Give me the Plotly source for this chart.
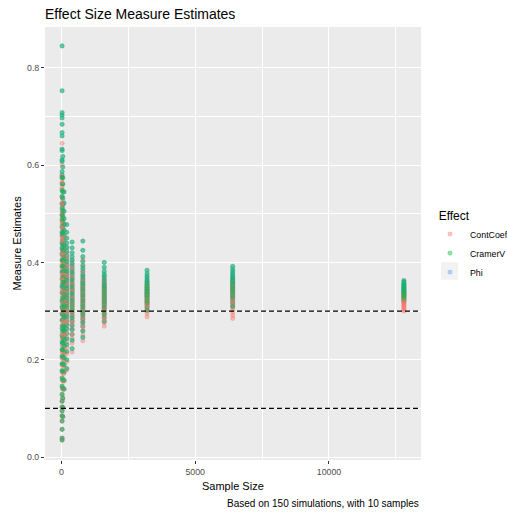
import plotly.graph_objects as go

# Sample sizes used in the simulation
sample_sizes = [25, 50, 100, 200, 400, 800, 1600, 3200, 6400, 12800]

# Cramér's V estimates per sample size
cramer_v_n25 = [0.845, 0.753, 0.708, 0.703, 0.697, 0.684, 0.667, 0.660, 0.633, 0.630, 0.611, 0.608,
                0.587, 0.580, 0.575, 0.562, 0.548, 0.536, 0.521, 0.512, 0.498, 0.487, 0.474, 0.462,
                0.455, 0.441, 0.430, 0.418, 0.405, 0.392, 0.380, 0.366, 0.351, 0.338, 0.322, 0.309,
                0.294, 0.281, 0.265, 0.250, 0.236, 0.221, 0.207, 0.192, 0.178, 0.163, 0.146, 0.129,
                0.115, 0.103, 0.095, 0.085, 0.074, 0.057, 0.039, 0.035]
cramer_v_n50 = [0.618, 0.596, 0.574, 0.561, 0.545, 0.532, 0.518, 0.507, 0.494, 0.483, 0.470, 0.459,
                0.447, 0.437, 0.425, 0.415, 0.403, 0.393, 0.381, 0.371, 0.359, 0.349, 0.337, 0.327,
                0.315, 0.305, 0.293, 0.283, 0.270, 0.259, 0.246, 0.234, 0.220, 0.207, 0.191, 0.176,
                0.158, 0.141, 0.121, 0.102, 0.083]
cramer_v_n100 = [0.545, 0.522, 0.505, 0.490, 0.478, 0.466, 0.455, 0.445, 0.435, 0.426, 0.417, 0.408,
                 0.399, 0.391, 0.383, 0.375, 0.367, 0.359, 0.351, 0.343, 0.335, 0.327, 0.319, 0.311,
                 0.303, 0.295, 0.287, 0.278, 0.269, 0.260, 0.250, 0.240, 0.229, 0.217, 0.204, 0.190,
                 0.175, 0.158, 0.140]
cramer_v_n200 = [0.478, 0.462, 0.450, 0.440, 0.431, 0.423, 0.415, 0.408, 0.401, 0.394, 0.388, 0.382,
                 0.376, 0.370, 0.364, 0.358, 0.352, 0.346, 0.340, 0.334, 0.328, 0.322, 0.316, 0.310,
                 0.303, 0.296, 0.289, 0.281, 0.273, 0.264, 0.254, 0.243, 0.231, 0.217, 0.200, 0.182]
cramer_v_n400 = [0.442, 0.430, 0.420, 0.412, 0.405, 0.398, 0.392, 0.386, 0.380, 0.375, 0.370, 0.365,
                 0.360, 0.355, 0.350, 0.345, 0.340, 0.335, 0.330, 0.325, 0.320, 0.315, 0.310, 0.304,
                 0.298, 0.292, 0.286, 0.279, 0.271, 0.262, 0.252, 0.240, 0.223]
cramer_v_n800 = [0.444, 0.425, 0.412, 0.402, 0.394, 0.387, 0.381, 0.375, 0.370, 0.365, 0.361, 0.357,
                 0.353, 0.349, 0.345, 0.341, 0.337, 0.333, 0.329, 0.325, 0.321, 0.317, 0.313, 0.309,
                 0.305, 0.300, 0.295, 0.290, 0.284, 0.277, 0.269, 0.259, 0.246]
cramer_v_n1600 = [0.400, 0.390, 0.382, 0.376, 0.371, 0.366, 0.362, 0.358, 0.355, 0.352, 0.349, 0.346,
                  0.343, 0.340, 0.337, 0.334, 0.331, 0.328, 0.325, 0.322, 0.319, 0.316, 0.313, 0.309,
                  0.305, 0.300, 0.294, 0.287, 0.279]
cramer_v_n3200 = [0.384, 0.377, 0.372, 0.368, 0.364, 0.361, 0.358, 0.355, 0.352, 0.350, 0.348, 0.346,
                  0.344, 0.342, 0.340, 0.338, 0.336, 0.334, 0.332, 0.330, 0.327, 0.324, 0.321, 0.318,
                  0.314, 0.309, 0.302]
cramer_v_n6400 = [0.392, 0.386, 0.381, 0.377, 0.373, 0.370, 0.367, 0.364, 0.361, 0.359, 0.356, 0.354,
                  0.351, 0.349, 0.346, 0.344, 0.341, 0.338, 0.335, 0.332, 0.328, 0.323, 0.317, 0.310]
cramer_v_n12800 = [0.363, 0.360, 0.357, 0.355, 0.353, 0.351, 0.349, 0.347, 0.346, 0.344, 0.343, 0.341,
                   0.340, 0.338, 0.337, 0.335, 0.334, 0.332, 0.331, 0.329, 0.327, 0.324, 0.321]

# Contingency coefficient estimates per sample size
cont_coef_n25 = [0.645, 0.601, 0.578, 0.575, 0.572, 0.565, 0.555, 0.551, 0.535, 0.533, 0.521, 0.520,
                 0.506, 0.502, 0.498, 0.490, 0.481, 0.472, 0.462, 0.456, 0.446, 0.438, 0.428, 0.420,
                 0.414, 0.404, 0.395, 0.386, 0.375, 0.365, 0.355, 0.344, 0.331, 0.320, 0.306, 0.295,
                 0.282, 0.271, 0.256, 0.243, 0.230, 0.216, 0.203, 0.189, 0.175, 0.161, 0.144, 0.128,
                 0.114, 0.102, 0.095, 0.085, 0.074, 0.057, 0.039, 0.035]
cont_coef_n50 = [0.526, 0.512, 0.498, 0.489, 0.479, 0.469, 0.460, 0.451, 0.443, 0.434, 0.426, 0.416,
                 0.408, 0.400, 0.391, 0.383, 0.374, 0.365, 0.356, 0.347, 0.338, 0.329, 0.319, 0.310,
                 0.300, 0.291, 0.281, 0.271, 0.261, 0.250, 0.239, 0.227, 0.215, 0.202, 0.188, 0.172,
                 0.156, 0.139, 0.120, 0.101, 0.083]
cont_coef_n100 = [0.479, 0.463, 0.451, 0.440, 0.431, 0.422, 0.414, 0.407, 0.399, 0.392, 0.385, 0.378,
                  0.371, 0.364, 0.358, 0.351, 0.345, 0.338, 0.331, 0.324, 0.318, 0.311, 0.304, 0.297,
                  0.290, 0.283, 0.276, 0.268, 0.260, 0.252, 0.243, 0.233, 0.223, 0.212, 0.200, 0.187,
                  0.172, 0.156, 0.139]
cont_coef_n200 = [0.431, 0.420, 0.410, 0.403, 0.396, 0.390, 0.383, 0.378, 0.372, 0.367, 0.362, 0.357,
                  0.352, 0.347, 0.342, 0.337, 0.332, 0.327, 0.322, 0.317, 0.312, 0.306, 0.301, 0.296,
                  0.290, 0.284, 0.278, 0.271, 0.263, 0.255, 0.246, 0.236, 0.225, 0.212, 0.196, 0.179]
cont_coef_n400 = [0.404, 0.395, 0.387, 0.381, 0.375, 0.370, 0.365, 0.360, 0.355, 0.351, 0.347, 0.343,
                  0.339, 0.335, 0.330, 0.326, 0.322, 0.318, 0.314, 0.309, 0.305, 0.300, 0.296, 0.291,
                  0.286, 0.280, 0.275, 0.268, 0.262, 0.253, 0.244, 0.234, 0.216]
cont_coef_n800 = [0.406, 0.391, 0.381, 0.373, 0.367, 0.361, 0.356, 0.351, 0.347, 0.343, 0.340, 0.336,
                  0.333, 0.330, 0.326, 0.323, 0.319, 0.316, 0.313, 0.309, 0.306, 0.302, 0.299, 0.295,
                  0.292, 0.287, 0.283, 0.279, 0.273, 0.267, 0.260, 0.251, 0.239]
cont_coef_n1600 = [0.371, 0.363, 0.357, 0.352, 0.348, 0.344, 0.340, 0.337, 0.335, 0.332, 0.330, 0.327,
                   0.324, 0.322, 0.319, 0.317, 0.314, 0.312, 0.309, 0.306, 0.304, 0.301, 0.299, 0.295,
                   0.292, 0.287, 0.282, 0.276, 0.269]
cont_coef_n3200 = [0.358, 0.353, 0.349, 0.345, 0.342, 0.340, 0.337, 0.335, 0.332, 0.330, 0.329, 0.327,
                   0.325, 0.324, 0.322, 0.320, 0.319, 0.317, 0.315, 0.314, 0.311, 0.308, 0.306, 0.303,
                   0.300, 0.295, 0.288]
cont_coef_n6400 = [0.365, 0.360, 0.356, 0.352, 0.349, 0.346, 0.343, 0.340, 0.337, 0.335, 0.332, 0.330,
                   0.327, 0.325, 0.322, 0.319, 0.316, 0.313, 0.310, 0.306, 0.302, 0.297, 0.291, 0.285]
cont_coef_n12800 = [0.341, 0.338, 0.336, 0.334, 0.332, 0.330, 0.328, 0.327, 0.325, 0.324, 0.322, 0.321,
                    0.319, 0.318, 0.316, 0.315, 0.313, 0.311, 0.309, 0.307, 0.305, 0.303, 0.300]

cramer_v = [cramer_v_n25, cramer_v_n50, cramer_v_n100, cramer_v_n200, cramer_v_n400,
            cramer_v_n800, cramer_v_n1600, cramer_v_n3200, cramer_v_n6400, cramer_v_n12800]
cont_coef = [cont_coef_n25, cont_coef_n50, cont_coef_n100, cont_coef_n200, cont_coef_n400,
             cont_coef_n800, cont_coef_n1600, cont_coef_n3200, cont_coef_n6400, cont_coef_n12800]
# In a 2x2 table Phi coincides with Cramér's V, so Phi reuses the same estimates
phi = cramer_v

reference_lines = [0.1, 0.3]

measures = ["ContCoef", "CramerV", "Phi"]
colors = {"ContCoef": (248, 118, 109), "CramerV": (0, 186, 56), "Phi": (97, 156, 255)}
values = {"ContCoef": cont_coef, "CramerV": cramer_v, "Phi": phi}

FONT = "Liberation Sans, Arial, sans-serif"
W, H = 507, 512
ML, MR, MT, MB = 45, 86, 27, 52
PW, PH = W - ML - MR, H - MT - MB


def px_x(px):
    return (px - ML) / PW


def px_y(py):
    return (H - MB - py) / PH


fig = go.Figure()

# Interleave drawing chunks so the three measures mix like row-ordered points
n_chunks = 3
draw_order = ["Phi", "ContCoef", "CramerV"]
shown = set()
for k in range(n_chunks):
    for m in draw_order:
        xs, ys = [], []
        for n, vals in zip(sample_sizes, values[m]):
            part = vals[k::n_chunks]
            xs += [n] * len(part)
            ys += part
        r, g, b = colors[m]
        fig.add_trace(go.Scatter(
            x=xs, y=ys, mode="markers", name=m, legendgroup=m,
            showlegend=m not in shown, legendrank=measures.index(m) + 1,
            marker=dict(size=4.2, color=f"rgba({r},{g},{b},0.42)",
                        line=dict(width=0.6, color=f"rgba({r},{g},{b},0.55)")),
            hoverinfo="skip",
        ))
        shown.add(m)

for yv in reference_lines:
    fig.add_hline(y=yv, line=dict(color="black", width=1.2, dash="5px,3px"), layer="above")

# Grey key backgrounds behind the legend symbols
key_centers = [234, 252.5, 271]
shapes = []
for c in key_centers:
    shapes.append(dict(type="rect", xref="paper", yref="paper",
                       x0=px_x(441), x1=px_x(458), y0=px_y(c + 8.7), y1=px_y(c - 8.7),
                       fillcolor="#F2F2F2", line=dict(width=0), layer="below"))

axis_common = dict(
    showline=False, zeroline=False, ticks="outside", ticklen=3, tickwidth=1,
    tickcolor="#333333", tickfont=dict(family=FONT, size=8.8, color="#4D4D4D"),
    gridcolor="white", gridwidth=1.1,
)

fig.update_layout(
    width=W, height=H,
    margin=dict(l=ML, r=MR, t=MT, b=MB, pad=0, autoexpand=False),
    paper_bgcolor="white", plot_bgcolor="#EBEBEB",
    font=dict(family=FONT, color="black"),
    title=dict(text="Effect Size Measure Estimates", xref="container", yref="container",
               x=45 / W, xanchor="left", y=1 - 14.5 / H, yanchor="middle",
               font=dict(family=FONT, size=14, color="black")),
    xaxis=dict(range=[-614, 13439], tickvals=[0, 5000, 10000], ticktext=["0", "5000", "10000"],
               minor=dict(tickvals=[2500, 7500, 12500], showgrid=True, gridcolor="white",
                          gridwidth=0.55, ticks=""),
               **axis_common),
    yaxis=dict(range=[-0.006, 0.884], tickvals=[0, 0.2, 0.4, 0.6, 0.8],
               ticktext=["0.0", "0.2", "0.4", "0.6", "0.8"],
               minor=dict(tickvals=[0.1, 0.3, 0.5, 0.7], showgrid=True, gridcolor="white",
                          gridwidth=0.55, ticks=""),
               **axis_common),
    legend=dict(x=px_x(430), xanchor="left", y=px_y(204), yanchor="top",
                bgcolor="rgba(0,0,0,0)", tracegroupgap=0,
                title=dict(text="\u00a0\u00a0Effect", font=dict(family=FONT, size=12, color="black")),
                font=dict(family=FONT, size=8.8, color="black"),
                itemsizing="trace"),
    shapes=shapes,
    annotations=[
        dict(text="Sample Size", xref="paper", yref="paper", x=0.5, y=px_y(486),
             xanchor="center", yanchor="middle", showarrow=False,
             font=dict(family=FONT, size=11, color="black")),
        dict(text="Measure Estimates", xref="paper", yref="paper", x=px_x(16), y=0.5,
             xanchor="center", yanchor="middle", textangle=-90, showarrow=False,
             font=dict(family=FONT, size=11, color="black")),
        dict(text="Based on 150 simulations, with 10 samples", xref="paper", yref="paper",
             x=1, y=px_y(503), xanchor="right", yanchor="middle", showarrow=False,
             font=dict(family=FONT, size=10, color="black")),
    ],
)

fig.write_html("out.html")
